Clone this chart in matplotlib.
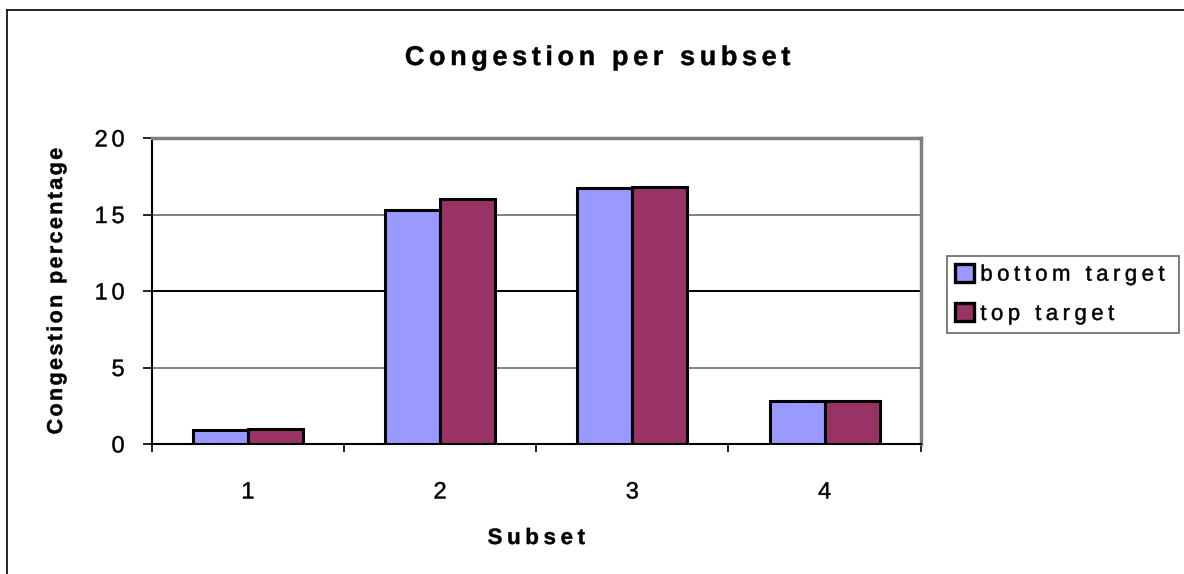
import matplotlib
matplotlib.use("Agg")
import matplotlib.pyplot as plt
import numpy as np
from matplotlib.lines import Line2D
from matplotlib.path import Path
from matplotlib.patheffects import AbstractPathEffect
from matplotlib.textpath import text_to_path
from matplotlib.font_manager import get_font, findfont

plt.rcParams['font.family'] = ['Liberation Sans', 'DejaVu Sans']

subsets = ["1", "2", "3", "4"]
bottom_target = [0.9, 15.3, 16.7, 2.8]
top_target = [1.0, 16.0, 16.8, 2.8]
series_names = ["bottom target", "top target"]
y_ticks = [0, 5, 10, 15, 20]


class LetterSpacing(AbstractPathEffect):
    """Redraw a text's glyph outlines with extra space between characters."""

    def __init__(self, text, spacing_em=0.16, align=0.5):
        super().__init__()
        self.text = text
        self.spacing = spacing_em
        self.align = align

    def draw_path(self, renderer, gc, tpath, affine, rgbFace=None):
        s = self.text.get_text()
        prop = self.text.get_fontproperties()
        font = get_font(findfont(prop))
        font.set_size(text_to_path.FONT_SCALE, text_to_path.DPI)
        glyphs, gmap, _ = text_to_path.get_glyphs_with_font(font, s)
        step = self.spacing * text_to_path.FONT_SCALE
        shift = -self.align * step * max(len(glyphs) - 1, 0)
        verts, codes = [], []
        for i, (gid, xpos, ypos, scale) in enumerate(glyphs):
            v, c = gmap[gid]
            if len(v) == 0:
                continue
            verts.append(np.asarray(v) * scale + [xpos + shift + i * step, ypos])
            codes.append(np.asarray(c))
        if not verts:
            return
        path = Path(np.concatenate(verts), np.concatenate(codes))
        gc0 = renderer.new_gc()
        gc0.copy_properties(gc)
        gc0.set_linewidth(0.35)
        gc0.set_foreground(rgbFace)
        renderer.draw_path(gc0, path, affine, rgbFace)
        gc0.restore()


def space_out(text, spacing_em=0.16, align=0.5):
    text.set_path_effects([LetterSpacing(text, spacing_em, align)])


W, H = 1184, 574
fig = plt.figure(figsize=(W / 100, H / 100), dpi=100)
fig.patch.set_facecolor("white")

# outer chart frame (left and top edges)
fig.add_artist(Line2D([7 / W, 7 / W], [0, 1 - 10 / H], color="black", lw=1.2,
                      transform=fig.transFigure))
fig.add_artist(Line2D([7 / W, 1], [1 - 10 / H, 1 - 10 / H], color="black", lw=1.2,
                      transform=fig.transFigure))

ax = fig.add_axes([151.7 / W, 1 - 444 / H, (920.7 - 151.7) / W, (444 - 138) / H])

x = np.arange(len(subsets))
bw = 0.286
ax.bar(x - bw / 2, bottom_target, width=bw, color="#9999FF", edgecolor="black",
       linewidth=2.2, label=series_names[0], zorder=3)
ax.bar(x + bw / 2, top_target, width=bw, color="#993366", edgecolor="black",
       linewidth=2.2, label=series_names[1], zorder=3)

ax.set_xlim(-0.5, len(subsets) - 0.5)
ax.set_ylim(0, 20)
ax.set_yticks(y_ticks)
for yv in y_ticks[1:-1]:
    ax.axhline(yv, color="black" if yv == 10 else "#808080", lw=1.4, zorder=1)

ax.set_xticks(x)
ax.set_xticklabels(subsets)
ax.set_xticks(np.arange(len(subsets) + 1) - 0.5, minor=True)
ax.tick_params(axis="x", which="major", length=0, pad=27, labelsize=17)
ax.tick_params(axis="x", which="minor", length=6, width=1.2, direction="out",
               color="black")
ax.tick_params(axis="y", length=6.5, width=1.2, direction="out", labelsize=17,
               pad=13, color="black")
for t in ax.get_xticklabels():
    space_out(t, 0.0, 0.5)

ax.spines["left"].set_color("black")
ax.spines["left"].set_linewidth(1.5)
ax.spines["bottom"].set_color("black")
ax.spines["bottom"].set_linewidth(1.5)
for s in ("top", "right"):
    ax.spines[s].set_color("#808080")
    ax.spines[s].set_linewidth(2.5)

title = ax.set_title("Congestion per subset", fontsize=19.5, fontweight="bold",
                     x=(597.5 - 151.7) / 769, y=(444 - 65) / 306, pad=0)
space_out(title, 0.17, 0.5)

xl = ax.set_xlabel("Subset", fontsize=16, fontweight="bold")
ax.xaxis.set_label_coords(0.5, -(528 - 444) / 306)
space_out(xl, 0.21, 0.5)

yl = ax.set_ylabel("Congestion percentage", fontsize=15.5, fontweight="bold")
ax.yaxis.set_label_coords(-(151.7 - 67) / 769, 0.5)
space_out(yl, 0.11, 0.5)

for t in ax.get_yticklabels():
    space_out(t, 0.16, 1.0)

leg = ax.legend(loc="center left", bbox_to_anchor=(947 / W, 1 - 335 / H, 232 / W, 81 / H),
                bbox_transform=fig.transFigure, mode="expand", fontsize=16,
                frameon=True, fancybox=False, edgecolor="#404040",
                handlelength=0.85, handleheight=0.85, handletextpad=0.3,
                borderpad=0.35, labelspacing=0.8, borderaxespad=0)
leg.get_frame().set_linewidth(1.2)
for t in leg.get_texts():
    space_out(t, 0.2, 0.0)
for h in leg.legend_handles:
    h.set_linewidth(2.4)

fig.savefig("out.png", dpi=100, facecolor="white")
